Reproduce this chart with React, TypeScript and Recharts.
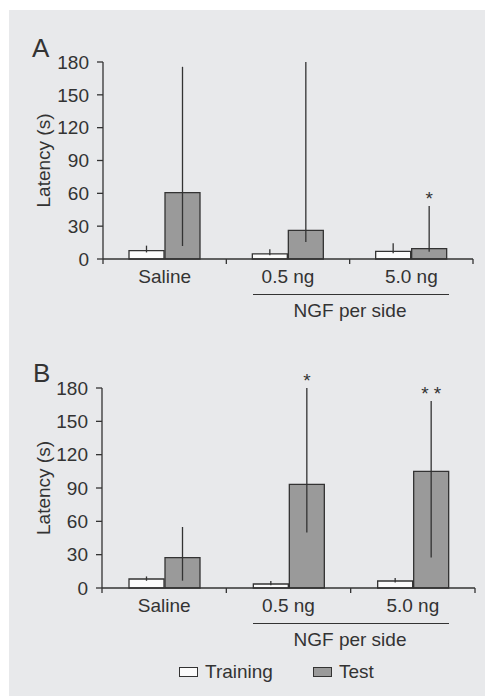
import React from "react"
import { ComposedChart, Bar, XAxis, YAxis, ErrorBar, LabelList } from "recharts"

const categories = ["Saline", "0.5 ng", "5.0 ng"]
const yTicks = [0, 30, 60, 90, 120, 150, 180]

// panel A
const trainA = [7.6, 4.6, 7.0]
const trainALow = [6.0, 3.5, 5.2]
const trainAHigh = [12.2, 8.9, 14.4]
const testA = [60.6, 26.2, 9.4]
const testALow = [11.9, 15.5, 6.7]
const testAHigh = [175.6, 180, 48.5]
const sigA = ["", "", "*"]

// panel B
const trainB = [8.1, 3.6, 6.3]
const trainBLow = [6.5, 2.5, 5.0]
const trainBHigh = [10.4, 6.3, 9.0]
const testB = [27.3, 93.3, 105]
const testBLow = [6.6, 50, 27.5]
const testBHigh = [54.9, 180, 168.3]
const sigB = ["", "*", "* *"]

const INK = "#333"
const FONT = "'Liberation Sans', Arial, sans-serif"
const CHART_W = 485

function buildRows(train: number[], trainLow: number[], trainHigh: number[], test: number[], testLow: number[], testHigh: number[], sig: string[]) {
  return categories.map((name, i) => ({
    name,
    training: train[i],
    trainErr: [train[i] - trainLow[i], trainHigh[i] - train[i]],
    test: test[i],
    testErr: [test[i] - testLow[i], testHigh[i] - test[i]],
    testHigh: testHigh[i],
    sig: sig[i],
  }))
}

// category label + tick marks at the group boundaries
function CatTick(props: any) {
  const { x, y, payload, half } = props
  const axisY = y - 11
  const last = payload.value === categories[categories.length - 1]
  return (
    <g>
      <line x1={x - half} x2={x - half} y1={axisY} y2={axisY + 5} stroke={INK} strokeWidth={1.3} />
      {last && <line x1={x + half} x2={x + half} y1={axisY} y2={axisY + 5} stroke={INK} strokeWidth={1.3} />}
      <text x={x} y={y} dy="0.71em" textAnchor="middle" fontSize={19} fill={INK} fontFamily={FONT}>
        {payload.value}
      </text>
    </g>
  )
}

function Panel({ rows, margin }: { rows: any[]; margin: any }) {
  const half = (CHART_W - margin.yw - margin.right) / categories.length / 2

  const starLabel = (props: any) => {
    const { x, y, width, height, index } = props
    const row = rows[index]
    if (!row || !row.sig) return null
    const perUnit = height / row.test
    const errTop = y + height - row.testHigh * perUnit
    return (
      <text x={x + width / 2} y={errTop - 1} textAnchor="middle" fontSize={19} fill={INK} fontFamily={FONT}>
        {row.sig}
      </text>
    )
  }

  return (
    <ComposedChart width={CHART_W} height={300} data={rows} margin={margin} barSize={35} barGap={1}>
      <XAxis
        dataKey="name"
        height={30}
        tickLine={false}
        tickSize={0}
        tickMargin={11}
        axisLine={{ stroke: INK, strokeWidth: 1.3 }}
        tick={<CatTick half={half} />}
        interval={0}
      />
      <YAxis
        domain={[0, 180]}
        ticks={yTicks}
        width={margin.yw}
        tickSize={6}
        tickMargin={8}
        axisLine={{ stroke: INK, strokeWidth: 1.3 }}
        tickLine={{ stroke: INK, strokeWidth: 1.3 }}
        tick={{ fill: INK, fontSize: 19, fontFamily: FONT }}
        label={{ value: "Latency (s)", angle: -90, position: "center", dx: -8, fill: INK, fontSize: 19, fontFamily: FONT }}
      />
      <Bar dataKey="training" fill="#fbfbfb" stroke={INK} strokeWidth={1.3} isAnimationActive={false}>
        <ErrorBar dataKey="trainErr" width={0} stroke={INK} strokeWidth={1.3} direction="y" isAnimationActive={false} />
      </Bar>
      <Bar dataKey="test" fill="#9a9a9a" stroke={INK} strokeWidth={1.3} isAnimationActive={false}>
        <ErrorBar dataKey="testErr" width={0} stroke={INK} strokeWidth={1.3} direction="y" isAnimationActive={false} />
        <LabelList dataKey="sig" content={starLabel} />
      </Bar>
    </ComposedChart>
  )
}

const textStyle: React.CSSProperties = {
  position: "absolute",
  fontFamily: FONT,
  color: INK,
  fontSize: 19,
  lineHeight: "19px",
  whiteSpace: "nowrap",
}

function GroupLabel({ lineY, textY }: { lineY: number; textY: number }) {
  return (
    <>
      <div style={{ position: "absolute", left: 253, top: lineY, width: 196, height: 1.3, background: INK }} />
      <div style={{ ...textStyle, left: 250, width: 200, textAlign: "center", top: textY - 9 }}>NGF per side</div>
    </>
  )
}

export default function App() {
  const rowsA = buildRows(trainA, trainALow, trainAHigh, testA, testALow, testAHigh, sigA)
  const rowsB = buildRows(trainB, trainBLow, trainBHigh, testB, testBLow, testBHigh, sigB)

  return (
    <div style={{ position: "absolute", left: 0, top: 0, width: 485, height: 696, background: "#fff", overflow: "hidden" }}>
      <div style={{ position: "absolute", left: 9, top: 10, right: 0, bottom: 0, background: "#e8e9eb" }} />

      <div style={{ position: "absolute", left: 0, top: 0 }}>
        <Panel rows={rowsA} margin={{ top: 62, right: 12, bottom: 11, left: 0, yw: 103 }} />
      </div>
      <div style={{ ...textStyle, fontSize: 26, lineHeight: "26px", left: 32, top: 35 }}>A</div>
      <GroupLabel lineY={294} textY={310} />

      <div style={{ position: "absolute", left: 0, top: 320 }}>
        <Panel rows={rowsB} margin={{ top: 68, right: 10, bottom: 2, left: 0, yw: 102 }} />
      </div>
      <div style={{ ...textStyle, fontSize: 26, lineHeight: "26px", left: 33, top: 360 }}>B</div>
      <GroupLabel lineY={623} textY={639} />

      <div style={{ position: "absolute", left: 179, top: 661, display: "flex", alignItems: "center", fontFamily: FONT, color: INK, fontSize: 19 }}>
        <span style={{ display: "inline-block", width: 17, height: 8, border: `1.3px solid ${INK}`, background: "#fbfbfb" }} />
        <span style={{ marginLeft: 7, marginRight: 40 }}>Training</span>
        <span style={{ display: "inline-block", width: 17, height: 8, border: `1.3px solid ${INK}`, background: "#9a9a9a" }} />
        <span style={{ marginLeft: 7 }}>Test</span>
      </div>
    </div>
  )
}
